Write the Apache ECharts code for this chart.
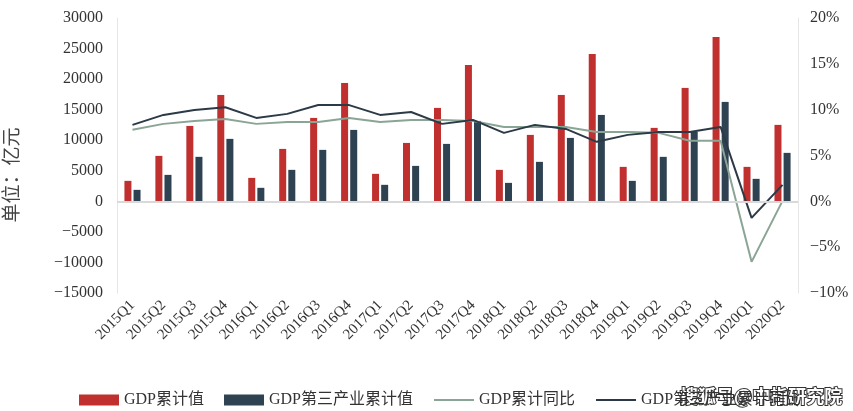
<!DOCTYPE html>
<html>
<head>
<meta charset="utf-8">
<script src="https://cdn.jsdelivr.net/npm/echarts@6/dist/echarts.min.js"></script>
<style>html,body{margin:0;padding:0;background:#fff}#c{width:853px;height:411px}</style>
</head>
<body>
<div id="c"></div>
<script>
const categories = ['2015Q1','2015Q2','2015Q3','2015Q4','2016Q1','2016Q2','2016Q3','2016Q4','2017Q1','2017Q2','2017Q3','2017Q4','2018Q1','2018Q2','2018Q3','2018Q4','2019Q1','2019Q2','2019Q3','2019Q4','2020Q1','2020Q2'];
const gdpCum = [3350,7440,12340,17410,3840,8580,13650,19370,4500,9560,15290,22320,5150,10870,17410,24120,5640,12020,18560,26900,5640,12510];
const tertiaryCum = [1880,4330,7280,10220,2210,5150,8420,11690,2700,5800,9400,13160,3020,6460,10380,14140,3350,7280,11360,16270,3680,7930];
const gdpYoY = [7.8,8.45,8.77,8.99,8.45,8.66,8.66,9.1,8.66,8.88,8.88,8.77,8.12,8.12,8.12,7.57,7.57,7.47,6.6,6.6,-6.6,0.05];
const tertiaryYoY = [8.34,9.43,9.97,10.27,9.1,9.54,10.5,10.5,9.43,9.75,8.45,8.88,7.47,8.34,7.9,6.49,7.25,7.57,7.57,8.12,-1.8,1.8];
const leftTicks = {min:-15000,max:30000,interval:5000};
const rightTicks = {min:-10,max:20,interval:5};

const FONT = "'Liberation Serif','Noto Sans CJK SC',serif";
const chart = echarts.init(document.getElementById('c'));
chart.setOption({
  animation:false,
  backgroundColor:'#fff',
  grid:{left:117,right:55,top:18,bottom:118,containLabel:false},
  legend:{
    left:74, top:387, itemWidth:40, itemHeight:11, itemGap:20,
    textStyle:{fontFamily:FONT,fontSize:16,color:'#333'},
    data:[
      {name:'GDP累计值',icon:'rect'},
      {name:'GDP第三产业累计值',icon:'rect'},
      {name:'GDP累计同比',itemStyle:{opacity:0}},
      {name:'GDP第三产业累计同比',itemStyle:{opacity:0}}
    ]
  },
  xAxis:{
    type:'category', data:categories, boundaryGap:true,
    axisLine:{show:false,onZero:false}, axisTick:{show:false},
    axisLabel:{rotate:45,interval:0,margin:10,fontFamily:FONT,fontSize:15,color:'#333'}
  },
  yAxis:[
    {type:'value',min:leftTicks.min,max:leftTicks.max,interval:leftTicks.interval,
     axisLine:{show:true,lineStyle:{color:'#e6e6e6'}},axisTick:{show:false},splitLine:{show:false},
     axisLabel:{margin:14,fontFamily:FONT,fontSize:16,color:'#333',formatter:v=>String(v).replace('-','\u2212')}},
    {type:'value',min:rightTicks.min,max:rightTicks.max,interval:rightTicks.interval,
     axisLine:{show:true,lineStyle:{color:'#e6e6e6'}},axisTick:{show:false},splitLine:{show:false},
     axisLabel:{margin:12,fontFamily:FONT,fontSize:16,color:'#333',formatter:v=>String(v).replace('-','\u2212')+'%'}}
  ],
  series:[
    {name:'GDP累计值',type:'bar',data:gdpCum,barWidth:7,barGap:'30%',itemStyle:{color:'#c0302e'},
     markLine:{silent:true,symbol:'none',label:{show:false},lineStyle:{color:'#d9d9d9',type:'solid',width:2},data:[{yAxis:0}]}},
    {name:'GDP第三产业累计值',type:'bar',data:tertiaryCum,barWidth:7,barGap:'30%',itemStyle:{color:'#2f4252'}},
    {name:'GDP累计同比',type:'line',yAxisIndex:1,data:gdpYoY,symbol:'none',lineStyle:{color:'#8aa595',width:2},itemStyle:{color:'#8aa595'}},
    {name:'GDP第三产业累计同比',type:'line',yAxisIndex:1,data:tertiaryYoY,symbol:'none',lineStyle:{color:'#2b3a46',width:2},itemStyle:{color:'#2b3a46'}}
  ],
  graphic:[
    {type:'text',x:13,y:175,rotation:Math.PI/2,style:{text:'单位：亿元',fontFamily:FONT,fontSize:19,fill:'#444',align:'center',verticalAlign:'middle'}},
    {type:'text',x:680,y:396,style:{text:'搜狐号@中指研究院',fontFamily:"'Noto Sans CJK SC',sans-serif",fontWeight:'bold',fontSize:18,fill:'#fff',stroke:'#333',lineWidth:2,verticalAlign:'middle'}}
  ]
});
</script>
</body>
</html>
